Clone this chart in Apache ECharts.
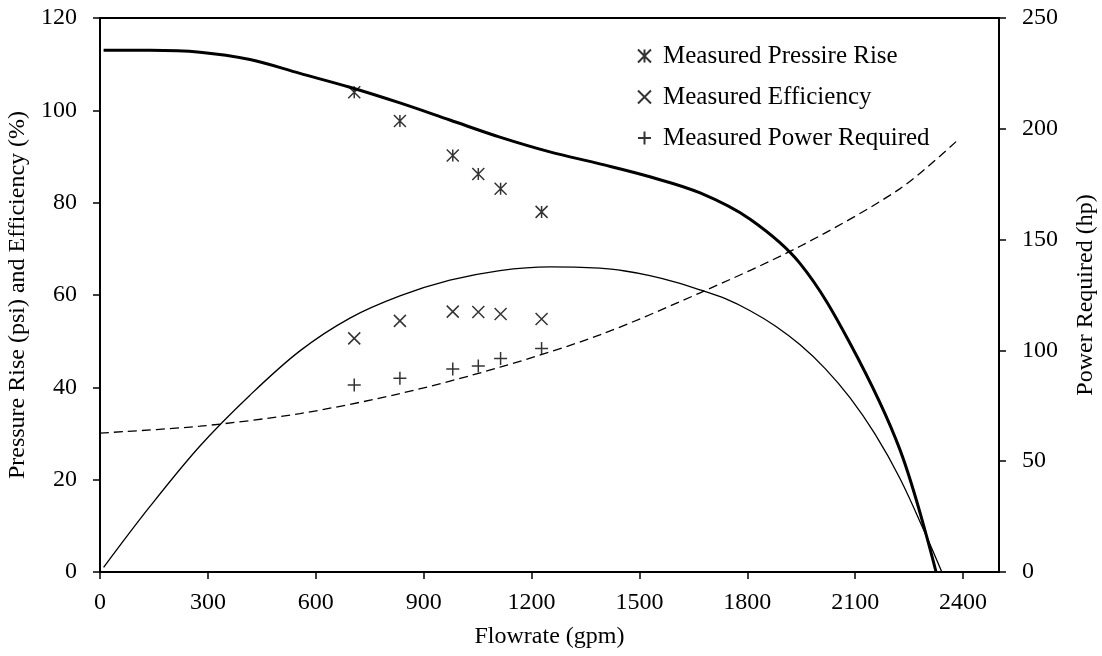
<!DOCTYPE html>
<html>
<head>
<meta charset="utf-8">
<title>Pump curves</title>
<script src="https://cdn.jsdelivr.net/npm/echarts@6.0.0/dist/echarts.min.js"></script>
<style>
  html, body { margin: 0; padding: 0; background: #fff; }
  #myChart { width: 1102px; height: 656px; }
</style>
</head>
<body>
<div id="myChart"></div>
<script>
// 测量点 (flowrate gpm)
const measuredFlow = [707, 834, 981, 1052, 1114, 1228]
const measuredPressure = [103.9, 97.7, 90.2, 86.2, 83.0, 78.0]
const measuredEfficiency = [50.6, 54.4, 56.4, 56.3, 55.9, 54.8]
const measuredPower = [84.4, 87.4, 91.6, 93.0, 96.4, 100.9]

// 曲线 - pressure rise
const presFlow = [10, 139, 278, 417, 556, 695, 834, 973, 1112, 1251, 1390, 1529, 1669, 1808, 1947, 2086, 2225, 2325]
const presCurve = [113, 113, 112.6, 111.0, 108.0, 105.0, 101.6, 97.9, 94.2, 91.0, 88.4, 85.6, 82.1, 76.4, 66.8, 49.5, 26.4, 0]

// 曲线 - efficiency
const effFlow = [10, 139, 278, 417, 556, 695, 834, 973, 1112, 1251, 1390, 1460, 1529, 1600, 1669, 1739, 1808, 1878, 1947, 2016, 2086, 2155, 2225, 2294, 2341]
const effCurve = [1, 14.2, 27.3, 38.3, 47.9, 55.0, 59.8, 63.2, 65.3, 66.1, 65.8, 65.2, 64.2, 62.8, 61.1, 59.2, 56.6, 53.3, 49.2, 44.1, 37.7, 29.9, 20.2, 8.5, 0]

// 曲线 - power required (right axis)
const powFlow = [0, 278, 556, 834, 1112, 1390, 1669, 1947, 2225, 2386]
const powCurve = [62.7, 65.8, 71.5, 80.5, 92.4, 107, 126, 147, 173, 195]

// 刻度
const xTicks = [0, 300, 600, 900, 1200, 1500, 1800, 2100, 2400]

const pairs = (xs, ys) => xs.map((x, i) => [x, ys[i]])

const FONT = "'Liberation Serif', 'Times New Roman', serif"
const ASTERISK = 'path://M0,0L10,10M10,0L0,10M5,0L5,10'
const CROSS = 'path://M0,0L10,10M10,0L0,10'
const PLUS = 'path://M5,0L5,10M0,5L10,5'

let myChart = echarts.init(document.getElementById('myChart'))

let axisCommon = {
  axisLine: { show: true, lineStyle: { color: '#000', width: 2 } },
  axisTick: { show: true, inside: false, length: 7, lineStyle: { color: '#000', width: 1.5 } },
  splitLine: { show: false },
  axisLabel: { color: '#000', fontSize: 24, fontFamily: FONT, margin: 23, formatter: (v) => String(v) },
  nameTextStyle: { color: '#000', fontSize: 24, fontFamily: FONT },
}

let markerStyle = { color: 'transparent', borderColor: '#000', borderWidth: 1.5 }

let option = {
  animation: false,
  backgroundColor: '#fff',
  textStyle: { fontFamily: FONT },
  grid: {
    left: 100,
    right: 103,
    top: 18,
    bottom: 84,
    outerBoundsMode: 'none',
    show: true,
    borderColor: '#000',
    borderWidth: 2,
  },
  legend: {
    data: ['Measured Pressire Rise', 'Measured Efficiency', 'Measured Power Required'],
    orient: 'vertical',
    left: 637,
    top: 43,
    padding: 0,
    itemWidth: 13,
    itemHeight: 13,
    itemGap: 15,
    selectedMode: false,
    textStyle: {
      color: '#000',
      fontSize: 25,
      fontFamily: FONT,
      lineHeight: 26,
      padding: [0, 0, 0, 7],
    },
  },
  xAxis: {
    type: 'value',
    min: 0,
    max: 2500,
    interval: 300,
    name: 'Flowrate (gpm)',
    nameLocation: 'middle',
    nameGap: 53,
    ...axisCommon,
    axisTick: { ...axisCommon.axisTick, customValues: xTicks },
    axisLabel: { ...axisCommon.axisLabel, margin: 19, customValues: xTicks },
  },
  yAxis: [
    {
      type: 'value',
      min: 0,
      max: 120,
      interval: 20,
      name: 'Pressure Rise (psi) and Efficiency (%)',
      nameLocation: 'middle',
      nameGap: 63,
      ...axisCommon,
    },
    {
      type: 'value',
      position: 'right',
      min: 0,
      max: 250,
      interval: 50,
      name: 'Power Required (hp)',
      nameLocation: 'middle',
      nameGap: 75,
      ...axisCommon,
    },
  ],
  series: [
    {
      name: 'Pressure curve',
      type: 'line',
      smooth: 0.35,
      showSymbol: false,
      data: pairs(presFlow, presCurve),
      lineStyle: { color: '#000', width: 3 },
      z: 3,
    },
    {
      name: 'Efficiency curve',
      type: 'line',
      smooth: 0.35,
      showSymbol: false,
      data: pairs(effFlow, effCurve),
      lineStyle: { color: '#000', width: 1.3 },
    },
    {
      name: 'Power curve',
      type: 'line',
      yAxisIndex: 1,
      smooth: 0.3,
      showSymbol: false,
      data: pairs(powFlow, powCurve),
      lineStyle: { color: '#000', width: 1.3, type: [9, 5] },
    },
    {
      name: 'Measured Pressire Rise',
      type: 'scatter',
      symbol: ASTERISK,
      symbolSize: 12,
      data: pairs(measuredFlow, measuredPressure),
      itemStyle: markerStyle,
      z: 4,
    },
    {
      name: 'Measured Efficiency',
      type: 'scatter',
      symbol: CROSS,
      symbolSize: 12,
      data: pairs(measuredFlow, measuredEfficiency),
      itemStyle: markerStyle,
      z: 4,
    },
    {
      name: 'Measured Power Required',
      type: 'scatter',
      symbol: PLUS,
      symbolSize: 13,
      yAxisIndex: 1,
      data: pairs(measuredFlow, measuredPower),
      itemStyle: markerStyle,
      z: 4,
    },
  ],
}

myChart.setOption(option, true)
window.addEventListener('resize', () => {
  myChart.resize()
})
</script>
</body>
</html>
